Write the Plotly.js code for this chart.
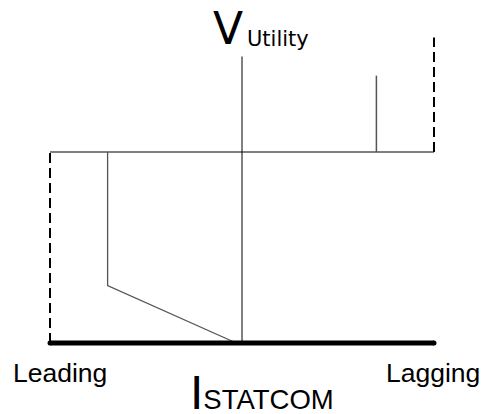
<!DOCTYPE html>
<html>
<head>
<meta charset="utf-8">
<script src="https://cdn.plot.ly/plotly-3.0.1.min.js"></script>
<style>
  html, body { margin: 0; padding: 0; background: #fff; }
  #plotArea { width: 483px; height: 414px; }
</style>
</head>
<body>
<div id="plotArea"></div>
<script>
// STATCOM V-I characteristic (current in p.u., leading < 0 < lagging; voltage in p.u.)

// current axis (thick)
var iAxis = [-1, 1];
var vAxis = [0, 0];

// reference voltage line
var iRef = [-1, 1];
var vRef = [1, 1];

// voltage axis
var iVolt = [0, 0];
var vVolt = [0, 1.5];

// current limits (dashed)
var iLeadLimit = [-1, -1];
var vLeadLimit = [0, 1];
var iLagLimit = [1, 1];
var vLagLimit = [1, 1.6];

// leading branch
var iLead = [-0.7, -0.7, -0.03];
var vLead = [1, 0.3, 0];

// lagging branch
var iLag = [0.7, 0.7];
var vLag = [1, 1.4];

function line(x, y, color, width, dash) {
    return {
        x: x, y: y, type: "scatter", mode: "lines",
        line: {color: color, width: width, dash: dash || "solid"},
        hoverinfo: "skip", showlegend: false
    };
}

var data = [
    line(iRef, vRef, "#000", 1),
    line(iVolt, vVolt, "#000", 1),
    line(iLeadLimit, vLeadLimit, "#000", 2, "10px,5px"),
    line(iLagLimit, vLagLimit, "#000", 2, "10px,5px"),
    line(iLead, vLead, "#555", 1.3),
    line(iLag, vLag, "#555", 1.5),
    {
        x: iAxis, y: vAxis, type: "scatter", mode: "lines+markers",
        line: {color: "#000", width: 5},
        marker: {color: "#000", size: 5},
        hoverinfo: "skip", showlegend: false
    }
];

var font = "Liberation Sans, Arial, sans-serif";
var dv = "DejaVu Sans, sans-serif";

// place a label by its left edge and the bottom of its box, in pixels
function label(text, left, bottom, family, size) {
    return {
        text: text, x: left / 483, y: 1 - bottom / 414,
        xref: "paper", yref: "paper", xanchor: "left", yanchor: "bottom",
        showarrow: false, borderpad: 0,
        font: {family: family, size: size, color: "#000"}
    };
}

var layout = {
    width: 483, height: 414,
    margin: {l: 0, r: 0, t: 0, b: 0},
    paper_bgcolor: "#fff", plot_bgcolor: "#fff",
    xaxis: {range: [-1.2604, 1.2552], visible: false, fixedrange: true},
    yaxis: {range: [-0.3717, 1.7958], visible: false, fixedrange: true},
    annotations: [
        label("V", 212, 55, dv, 44),
        label("Utility", 246, 52, dv, 21),
        label("Leading", 12, 389, font, 26.5),
        label("Lagging", 385, 389, font, 26.5),
        label("I<span style='font-size:27.5px'>STATCOM</span>", 189, 420, font, 48)
    ]
};

Plotly.newPlot("plotArea", data, layout, {staticPlot: true, displayModeBar: false});
</script>
</body>
</html>
